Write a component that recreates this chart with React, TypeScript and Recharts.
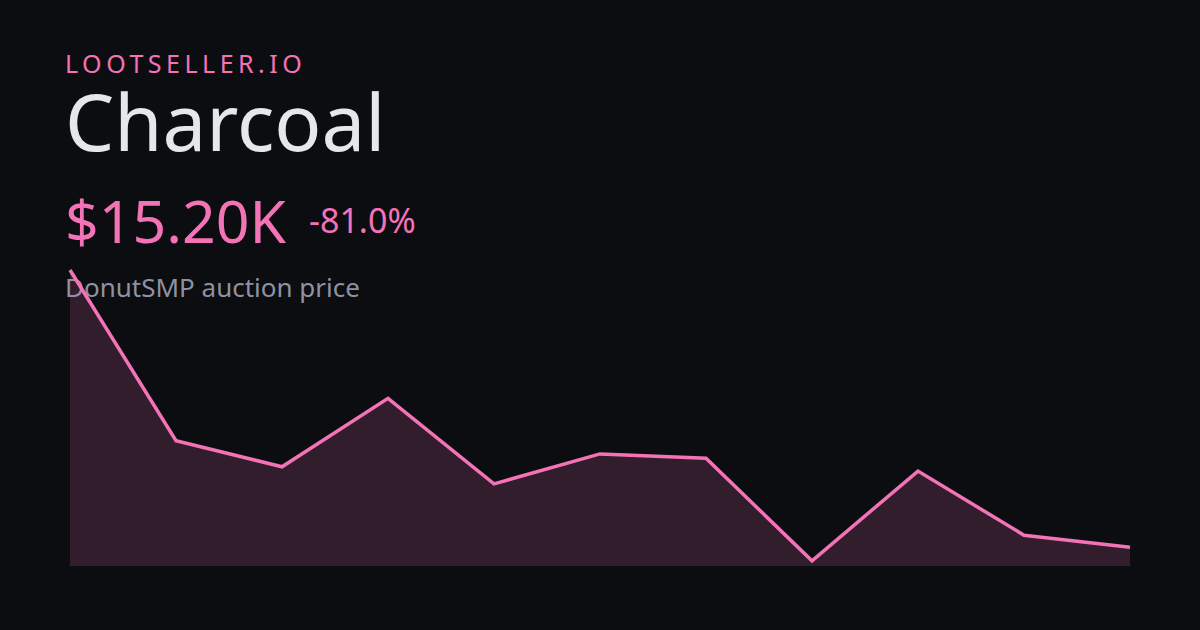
import { AreaChart, Area, XAxis, YAxis } from 'recharts'

const PINK = '#f472b6'
const BG = '#0c0d10'

// price samples, in thousands of dollars
const DIAS = ['d1', 'd2', 'd3', 'd4', 'd5', 'd6', 'd7', 'd8', 'd9', 'd10', 'd11']
const PRECOS = [80, 40.1, 34, 50, 30, 37, 36, 12, 33, 18, 15.2]

const dados = DIAS.map((d, i) => ({ dia: d, preco: PRECOS[i] }))
const minimo = Math.min(...PRECOS)
const maximo = Math.max(...PRECOS)

const fonte = '"Noto Sans", "Open Sans", sans-serif'

const texto = (top: number, size: number, color: string, extra: React.CSSProperties = {}) => ({
  position: 'absolute' as const,
  left: 65,
  top,
  fontSize: size,
  lineHeight: 1,
  color,
  whiteSpace: 'nowrap' as const,
  ...extra,
})

export default function App() {
  return (
    <div style={{ position: 'absolute', left: 0, top: 0, width: 1200, height: 630, background: BG, fontFamily: fonte, overflow: 'hidden' }}>
      <div style={texto(51, 25, PINK, { letterSpacing: '0.18em' })}>LOOTSELLER.IO</div>
      <div style={texto(90, 78, '#e6e7eb', { lineHeight: 0.8 })}>Charcoal</div>
      <div style={texto(191, 59, PINK)}>$15.20K</div>
      <div style={texto(203, 34, PINK, { left: 309 })}>-81.0%</div>
      <div style={texto(274, 26, '#8d92a2')}>DonutSMP auction price</div>

      <div style={{ position: 'absolute', left: 0, top: 0 }}>
        <AreaChart width={1200} height={630} data={dados} margin={{ top: 270, right: 70, bottom: 64, left: 70 }}>
          <XAxis dataKey="dia" hide />
          <YAxis hide domain={[minimo * 0.9, maximo]} />
          <Area
            type="linear"
            dataKey="preco"
            stroke={PINK}
            strokeWidth={3.5}
            fill={PINK}
            fillOpacity={0.17}
            dot={false}
            activeDot={false}
            isAnimationActive={false}
          />
        </AreaChart>
      </div>
    </div>
  )
}
